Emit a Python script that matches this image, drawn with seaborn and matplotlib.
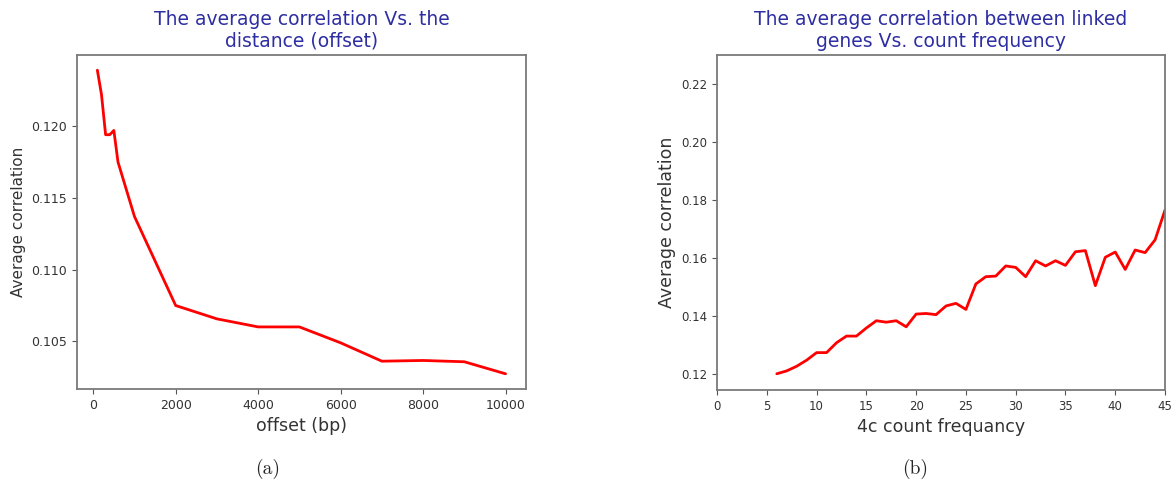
import numpy as np
import pandas as pd
import matplotlib
matplotlib.use("Agg")
import matplotlib.pyplot as plt
import seaborn as sns

# (a) average correlation vs. offset
offset_bp = [100, 200, 300, 400, 500, 600, 1000, 2000, 3000, 4000, 5000,
             6000, 7000, 8000, 9000, 10000]
corr_offset = [0.1239, 0.1222, 0.1194, 0.1194, 0.1197, 0.1175, 0.1137,
               0.10749, 0.10656, 0.1060, 0.1060, 0.10489, 0.10361,
               0.10366, 0.10357, 0.10273]

# (b) average correlation between linked genes vs. 4c count frequency
count_freq = list(range(6, 46))
corr_count = [0.1200, 0.1210, 0.1226, 0.1247, 0.1273, 0.1273, 0.1307, 0.1330,
              0.1330, 0.1358, 0.1383, 0.1378, 0.1383, 0.1362, 0.1406, 0.1408,
              0.1404, 0.1434, 0.1443, 0.1422, 0.1510, 0.1535, 0.1537, 0.1572,
              0.1567, 0.1535, 0.1590, 0.1572, 0.1590, 0.1574, 0.1621, 0.1625,
              0.1504, 0.1602, 0.1620, 0.1560, 0.1627, 0.1618, 0.1662, 0.1765]

df_a = pd.DataFrame({"offset": offset_bp, "corr": corr_offset})
df_b = pd.DataFrame({"freq": count_freq, "corr": corr_count})

sns.set_style("ticks")
plt.rcParams["font.family"] = ["DejaVu Sans"]
plt.rcParams["axes.edgecolor"] = "#7a7a7a"
plt.rcParams["axes.linewidth"] = 1.3
plt.rcParams["xtick.color"] = "#555555"
plt.rcParams["ytick.color"] = "#555555"
plt.rcParams["xtick.labelcolor"] = "#333333"
plt.rcParams["ytick.labelcolor"] = "#333333"

title_color = "#2e2ea3"
label_color = "#333333"

fig = plt.figure(figsize=(11.73, 4.8), dpi=100)
ax1 = fig.add_axes([0.0656, 0.1896, 0.3828, 0.6958])
ax2 = fig.add_axes([0.6113, 0.1875, 0.3819, 0.6980])

# left panel
sns.lineplot(data=df_a, x="offset", y="corr", ax=ax1, color="red", linewidth=2)
ax1.set_title("The average correlation Vs. the\ndistance (offset)",
              color=title_color, fontsize=13.5)
ax1.set_xlabel("offset (bp)", fontsize=12.5, color=label_color)
ax1.set_ylabel("Average correlation", fontsize=11, color=label_color)
ax1.set_xticks([0, 2000, 4000, 6000, 8000, 10000])
ax1.set_yticks([0.105, 0.110, 0.115, 0.120])
ax1.tick_params(labelsize=9, length=3.5)

# right panel
sns.lineplot(data=df_b, x="freq", y="corr", ax=ax2, color="red", linewidth=2)
ax2.set_title("The average correlation between linked\ngenes Vs. count frequency",
              color=title_color, fontsize=13.5)
ax2.set_xlabel("4c count frequancy", fontsize=12.5, color=label_color)
ax2.set_ylabel("Average correlation", fontsize=12.5, color=label_color)
ax2.set_xlim(0, 45)
ax2.set_ylim(0.1144, 0.230)
ax2.set_xticks(range(0, 46, 5))
ax2.set_yticks([0.12, 0.14, 0.16, 0.18, 0.20, 0.22])
ax2.tick_params(labelsize=8.5, length=3.5)

for ax in (ax1, ax2):
    for s in ax.spines.values():
        s.set_visible(True)

# sub-figure captions
fig.text(0.2285, 0.023, "(a)", ha="center", va="center", fontsize=14,
         family=["cmr10", "DejaVu Serif"])
fig.text(0.780, 0.023, "(b)", ha="center", va="center", fontsize=14,
         family=["cmr10", "DejaVu Serif"])

fig.savefig("out.png", dpi=100)
